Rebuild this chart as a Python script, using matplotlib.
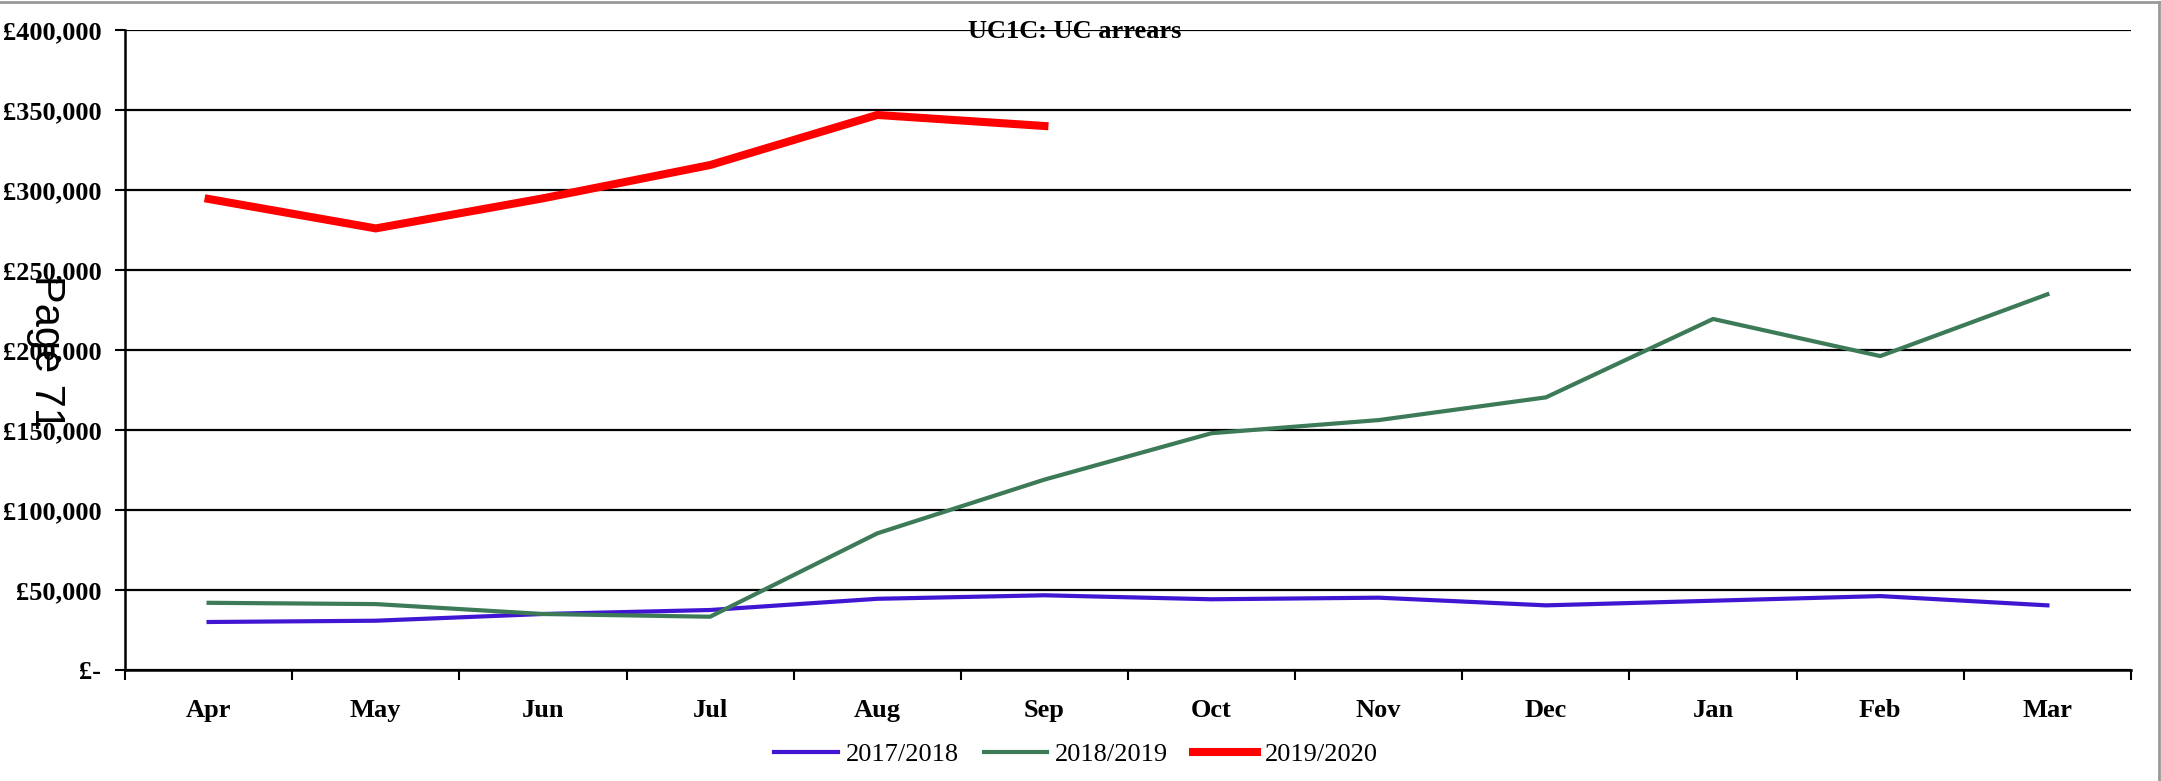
import matplotlib
matplotlib.use("Agg")
import matplotlib.pyplot as plt
from matplotlib.ticker import FuncFormatter, FixedLocator
from matplotlib.lines import Line2D

months = ["Apr", "May", "Jun", "Jul", "Aug", "Sep",
          "Oct", "Nov", "Dec", "Jan", "Feb", "Mar"]

arrears_1718 = [30000, 30800, 35000, 37500, 44500, 46700,
                44200, 45200, 40400, 43300, 46200, 40400]
arrears_1819 = [42000, 41200, 35000, 33300, 85400, 119000,
                148000, 156200, 170400, 219400, 196200, 234800]
arrears_1920 = [294400, 276000, 294800, 315600, 346900, 340000]

series_labels = ["2017/2018", "2018/2019", "2019/2020"]
yticks = [0, 50000, 100000, 150000, 200000, 250000, 300000, 350000, 400000]

serif = "Liberation Serif"

fig = plt.figure(figsize=(21.61, 7.81), dpi=100)
ax = fig.add_axes([125 / 2161, 1 - 670 / 781, 2006 / 2161, 640 / 781])

x = list(range(len(months)))
ax.plot(x, arrears_1718, color="#4016D2", lw=3.0, label=series_labels[0],
        solid_joinstyle="round")
ax.plot(x, arrears_1819, color="#3C7A58", lw=3.0, label=series_labels[1],
        solid_joinstyle="round")
ax.plot(x[:len(arrears_1920)], arrears_1920, color="#FF0000", lw=5.8,
        label=series_labels[2], solid_joinstyle="miter")

ax.set_xlim(-0.5, len(months) - 0.5)
ax.set_ylim(0, 400000)

# tick marks sit between the months, labels in the middle
ax.xaxis.set_major_locator(FixedLocator([i - 0.5 for i in range(len(months) + 1)]))
ax.xaxis.set_minor_locator(FixedLocator(x))
ax.set_xticklabels([""] * (len(months) + 1))
ax.set_xticklabels(months, minor=True)
ax.tick_params(axis="x", which="major", direction="out", length=7, width=1.5,
               color="black")
ax.tick_params(axis="x", which="minor", length=0, pad=21)

ax.set_yticks(yticks)
ax.yaxis.set_major_formatter(FuncFormatter(
    lambda v, p: "£-" if v == 0 else "£{:,.0f}".format(v)))
ax.tick_params(axis="y", direction="out", length=7, width=1.5, pad=10)

for lab in ax.get_xticklabels(minor=True) + ax.get_yticklabels():
    lab.set_fontfamily(serif)
    lab.set_fontweight("bold")
    lab.set_fontsize(19)

ax.grid(axis="y", color="black", lw=1.6)
ax.set_axisbelow(True)
for side in ["top", "right"]:
    ax.spines[side].set_visible(False)
for side in ["left", "bottom"]:
    ax.spines[side].set_linewidth(1.8)

fig.text(1075 / 2161, 1 - 32 / 781, "UC1C: UC arrears", ha="center", va="center",
         fontfamily=serif, fontweight="bold", fontsize=19)

fig.legend(loc="center", bbox_to_anchor=(1076 / 2161, 1 - 754 / 781), ncol=3,
           frameon=False, prop={"family": serif, "size": 19},
           handlelength=2.4, handletextpad=0.3, columnspacing=0.95)

fig.text(46 / 2161, 1 - 352 / 781, "Page 71", rotation=270, ha="center",
         va="center", fontfamily="Liberation Sans", fontsize=30)

# grey frame along the top and right edge
fig.add_artist(Line2D([0, 2159 / 2161], [1 - 2 / 781, 1 - 2 / 781],
                      color="#999999", lw=2, transform=fig.transFigure))
fig.add_artist(Line2D([2159 / 2161, 2159 / 2161], [0, 1 - 2 / 781],
                      color="#999999", lw=2, transform=fig.transFigure))

fig.savefig("out.png", dpi=100)
